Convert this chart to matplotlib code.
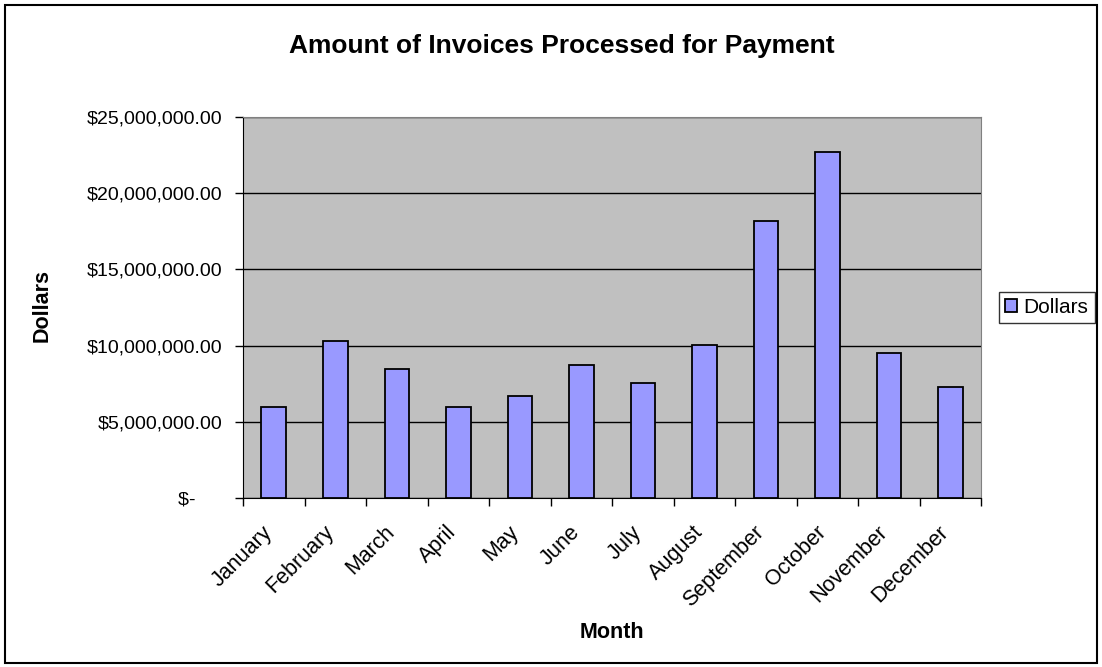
import numpy as np
import matplotlib.pyplot as plt
from matplotlib.patches import Rectangle

plt.rcParams['font.family'] = ['Liberation Sans', 'DejaVu Sans']

months = ["January", "February", "March", "April", "May", "June", "July",
          "August", "September", "October", "November", "December"]
dollars = [5.94e6, 10.28e6, 8.47e6, 5.94e6, 6.71e6, 8.75e6, 7.57e6,
           10.07e6, 18.2e6, 22.68e6, 9.52e6, 7.26e6]
yticks = [0, 5e6, 10e6, 15e6, 20e6, 25e6]
ylabels = ["$-     ", "$5,000,000.00", "$10,000,000.00", "$15,000,000.00",
           "$20,000,000.00", "$25,000,000.00"]

fig = plt.figure(figsize=(11.02, 6.67), dpi=100)
ax = fig.add_axes([0.2205, 0.2534, 0.67, 0.5712])
ax.set_facecolor("#c0c0c0")

x = np.arange(len(months))
ax.bar(x, dollars, width=0.4, color="#9999ff", edgecolor="black",
       linewidth=1.3, label="Dollars", zorder=3)

ax.set_xlim(-0.5, len(months) - 0.5)
ax.set_ylim(0, 25e6)
ax.set_yticks(yticks)
ax.set_yticklabels(ylabels, fontsize=14)
ax.yaxis.grid(True, color="black", linewidth=1, zorder=1)

# invisible major ticks carry the labels, a little left of the bar centres
ax.set_xticks(x - 0.2)
ax.set_xticklabels(months, fontsize=15.5, rotation=45, ha="right",
                   rotation_mode="anchor")
ax.set_xticks(np.arange(-0.5, len(months)), minor=True)
ax.tick_params(axis="x", which="major", length=0, pad=17)
ax.tick_params(axis="x", which="minor", length=6, width=1, direction="out")
ax.tick_params(axis="y", length=6, width=1, direction="out", pad=9)

for s in ["top", "right"]:
    ax.spines[s].set_color("#808080")
for s in ["left", "bottom"]:
    ax.spines[s].set_color("black")

fig.text(562 / 1102, 1 - 46 / 667, "Amount of Invoices Processed for Payment",
         fontsize=19, fontweight="bold", ha="center", va="center")
fig.text(42 / 1102, 1 - 306 / 667, "Dollars", fontsize=15.5, fontweight="bold",
         rotation=90, ha="center", va="center")
fig.text(612 / 1102, 1 - 633 / 667, "Month", fontsize=15.5, fontweight="bold",
         ha="center", va="center")

leg = ax.legend(loc="center left", bbox_to_anchor=(1.0235, 0.5), fontsize=15,
                frameon=True, fancybox=False, borderpad=0.3, handlelength=0.6,
                handleheight=0.6, handletextpad=0.3, borderaxespad=0)
leg.get_frame().set_edgecolor("black")
leg.get_frame().set_linewidth(1)

fig.patches.append(Rectangle((5 / 1102, 4 / 667), 1092 / 1102, 658 / 667,
                             transform=fig.transFigure, fill=False,
                             edgecolor="black", linewidth=1.5))

fig.savefig("out.png", dpi=100)
